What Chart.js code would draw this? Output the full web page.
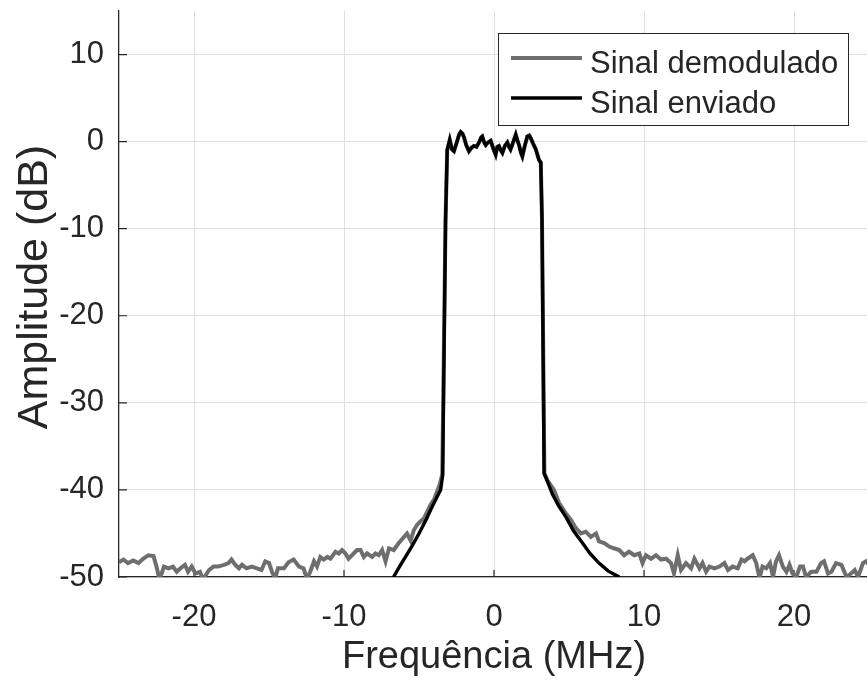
<!DOCTYPE html>
<html>
<head>
<meta charset="utf-8">
<script src="https://cdn.jsdelivr.net/npm/chart.js@4.4.1/dist/chart.umd.min.js"></script>
<style>
html,body{margin:0;padding:0;background:#fff;overflow:hidden;}
canvas{display:block;}
</style>
</head>
<body>
<canvas id="c" width="869" height="684"></canvas>
<script>
// ---- data ----
const X_TICKS = [-20, -10, 0, 10, 20];
const Y_TICKS = [-50, -40, -30, -20, -10, 0, 10];
const X_LABEL = 'Frequência (MHz)';
const Y_LABEL = 'Amplitude (dB)';
const SERIES_NAMES = ['Sinal demodulado', 'Sinal enviado'];

const sentFreq = [-6.7,-6.3,-5.9,-5.45,-5.0,-4.55,-4.12,-3.8,-3.56,-3.42,-3.23,-3.12,-3.05,-2.95,-2.8,-2.67,-2.5,-2.33,-2.22,-2.1,-2.0,-1.85,-1.67,-1.5,-1.34,-1.17,-1.0,-0.85,-0.78,-0.65,-0.55,-0.4,-0.22,-0.05,0.11,0.22,0.33,0.45,0.56,0.72,0.89,1.0,1.1,1.25,1.45,1.55,1.67,1.8,1.89,2.05,2.22,2.35,2.45,2.6,2.79,3.0,3.12,3.2,3.34,3.6,3.9,4.3,4.79,5.3,5.9,6.4,7.0,7.6,8.35];
const sentAmp  = [-50,-48.8,-47.7,-46.4,-45.0,-43.5,-41.9,-40.8,-40.0,-38.3,-9,-1,-0.5,0.2,-0.9,-1.1,-0.2,0.8,1.1,0.9,0.5,-0.4,-1.1,-0.7,-0.5,-0.6,-0.1,0.5,0.6,-0.1,-0.4,-0.1,0.1,-0.8,-1.5,-0.6,-0.5,-1.0,-1.3,-0.5,-0.1,-0.6,-0.9,-0.2,0.8,0.2,-0.4,-1.3,-1.7,-0.5,0.6,0.7,0.4,-0.2,-0.9,-2.1,-2.4,-9,-38.1,-39.2,-40.5,-41.8,-43.1,-44.7,-46.1,-47.3,-48.4,-49.3,-50];

const demodFreq = [-25,-24.9,-24.7,-24.4,-24.05,-23.7,-23.4,-23.05,-22.7,-22.5,-22.3,-22.0,-21.7,-21.4,-21.15,-20.9,-20.6,-20.4,-20.15,-19.9,-19.6,-19.4,-19.0,-18.7,-18.4,-18.0,-17.7,-17.5,-17.25,-17.0,-16.8,-16.5,-16.15,-15.8,-15.5,-15.25,-15.0,-14.8,-14.6,-14.4,-14.0,-13.7,-13.36,-13.0,-12.7,-12.47,-12.25,-12.0,-11.8,-11.58,-11.36,-11.1,-10.9,-10.57,-10.35,-10.13,-9.9,-9.7,-9.47,-9.13,-8.9,-8.68,-8.46,-8.13,-7.9,-7.68,-7.46,-7.23,-7.0,-6.68,-6.35,-6.0,-5.8,-5.56,-5.34,-5.12,-4.9,-4.68,-4.45,-4.23,-4.0,-3.8,-3.6,-3.45,-3.23,-3.12,-3.05,-2.95,-2.8,-2.67,-2.5,-2.33,-2.22,-2.1,-2.0,-1.85,-1.67,-1.5,-1.34,-1.17,-1.0,-0.85,-0.78,-0.65,-0.55,-0.4,-0.22,-0.05,0.11,0.22,0.33,0.45,0.56,0.72,0.89,1.0,1.1,1.25,1.45,1.55,1.67,1.8,1.89,2.05,2.22,2.35,2.45,2.6,2.79,3.0,3.12,3.2,3.36,3.6,4.0,4.34,4.79,5.12,5.46,5.79,6.12,6.46,6.8,7.0,7.35,7.68,8.0,8.35,8.68,9.0,9.35,9.69,9.9,10.13,10.47,10.8,11.14,11.47,11.8,12.0,12.25,12.47,12.8,13.14,13.36,13.7,13.9,14.14,14.36,14.7,15.03,15.36,15.6,15.9,16.25,16.5,16.7,16.9,17.25,17.48,17.7,17.9,18.15,18.4,18.6,18.8,19.0,19.26,19.5,19.7,19.9,20.15,20.4,20.6,20.8,21.15,21.5,21.8,22.0,22.27,22.5,22.8,23.16,23.5,23.8,24.05,24.27,24.6,24.8,25];
const demodAmp  = [-48.3,-48.2,-48.0,-48.4,-48.1,-48.4,-47.9,-47.5,-47.6,-48.8,-50.3,-48.8,-49.0,-48.8,-49.4,-49.0,-48.6,-49.4,-48.8,-49.6,-49.4,-50.3,-49.2,-48.8,-48.8,-48.6,-48.4,-48.0,-48.6,-49.0,-48.6,-49.0,-48.8,-49.0,-49.2,-48.2,-48.4,-49.4,-50.2,-49.0,-49.0,-48.3,-48.0,-48.8,-49.0,-50.2,-49.4,-48.2,-48.8,-47.7,-48.0,-47.7,-47.9,-47.1,-47.3,-46.9,-47.3,-47.9,-47.5,-46.9,-46.9,-47.7,-47.3,-47.7,-47.3,-47.5,-46.9,-48.2,-46.7,-46.9,-46.1,-45.4,-45.0,-45.8,-44.6,-44.0,-43.6,-43.3,-42.5,-41.7,-41.1,-40.2,-39.3,-38.2,-9,-1,-0.5,0.2,-0.9,-1.1,-0.2,0.8,1.1,0.9,0.5,-0.4,-1.1,-0.7,-0.5,-0.6,-0.1,0.5,0.6,-0.1,-0.4,-0.1,0.1,-0.8,-1.5,-0.6,-0.5,-1.0,-1.3,-0.5,-0.1,-0.6,-0.9,-0.2,0.8,0.2,-0.4,-1.3,-1.7,-0.5,0.6,0.7,0.4,-0.2,-0.9,-2.1,-2.4,-9,-38.1,-39.0,-40.0,-41.5,-42.7,-43.4,-44.4,-45.0,-44.8,-45.4,-45.0,-45.9,-46.1,-46.5,-46.7,-46.9,-47.5,-47.1,-47.5,-47.3,-48.4,-47.5,-47.9,-47.5,-48.0,-47.9,-48.4,-49.6,-47.5,-49.2,-48.4,-49.0,-47.9,-49.0,-48.4,-49.4,-48.8,-49.0,-48.8,-48.4,-49.2,-48.8,-49.0,-48.0,-48.2,-47.9,-47.5,-48.4,-50.1,-48.8,-49.0,-48.4,-50.0,-48.2,-47.5,-48.8,-49.4,-48.6,-49.6,-50.0,-48.8,-48.8,-50.0,-49.4,-49.4,-48.4,-48.2,-49.6,-49.4,-48.4,-48.6,-50.0,-49.6,-49.2,-50.0,-48.4,-48.2,-48.6];

const X_MIN = -25, X_MAX = 25, Y_MIN = -50, Y_MAX = 15;

// ---- styles ----
const FONT = "'Liberation Sans', Arial, Helvetica, sans-serif";
const TEXT = '#262626';
const AXIS = '#262626';
const GRID = '#dfdfdf';
const GRAY = '#6e6e6e';
const BLACK = '#000000';

const toPts = (xs, ys) => xs.map((x, i) => ({x: x, y: ys[i]}));

// inward tick marks (MATLAB style) drawn from the scales
const innerTicks = {
  id: 'innerTicks',
  beforeDatasetsDraw(chart) {
    const {ctx, chartArea, scales} = chart;
    ctx.save();
    ctx.strokeStyle = AXIS;
    ctx.lineWidth = 1.2;
    ctx.beginPath();
    X_TICKS.forEach(v => {
      const px = scales.x.getPixelForValue(v);
      ctx.moveTo(px, chartArea.bottom);
      ctx.lineTo(px, chartArea.bottom - 7);
    });
    Y_TICKS.forEach(v => {
      const py = scales.y.getPixelForValue(v);
      ctx.moveTo(chartArea.left, py);
      ctx.lineTo(chartArea.left + 8, py);
    });
    ctx.stroke();
    ctx.restore();
  }
};

// y-axis title, rotated, positioned like the reference
const yTitle = {
  id: 'yTitle',
  afterDraw(chart) {
    const {ctx, scales} = chart;
    const cy = scales.y.getPixelForValue(-16.7);
    ctx.save();
    ctx.translate(35, cy);
    ctx.rotate(-Math.PI / 2);
    ctx.fillStyle = TEXT;
    ctx.font = "43px " + FONT;
    ctx.textAlign = 'center';
    ctx.textBaseline = 'middle';
    ctx.fillText(Y_LABEL, 0, 0);
    ctx.restore();
  }
};

// boxed legend inside the plot, top right
const boxLegend = {
  id: 'boxLegend',
  afterDatasetsDraw(chart) {
    const {ctx} = chart;
    const x0 = 498.5, y0 = 33.5, w = 350, h = 92;
    ctx.save();
    ctx.fillStyle = '#ffffff';
    ctx.fillRect(x0, y0, w, h);
    ctx.strokeStyle = AXIS;
    ctx.lineWidth = 1;
    ctx.strokeRect(x0, y0, w, h);
    const rows = [58, 98];
    const bases = [73, 113];
    chart.data.datasets.forEach((ds, i) => {
      ctx.strokeStyle = ds.borderColor;
      ctx.lineWidth = ds.borderWidth;
      ctx.beginPath();
      ctx.moveTo(511, rows[i]);
      ctx.lineTo(582, rows[i]);
      ctx.stroke();
      ctx.fillStyle = TEXT;
      ctx.font = "31px " + FONT;
      ctx.textBaseline = 'alphabetic';
      ctx.textAlign = 'left';
      ctx.fillText(ds.label, 590, bases[i]);
    });
    ctx.restore();
  }
};

new Chart(document.getElementById('c'), {
  type: 'line',
  data: {
    datasets: [
      {
        label: SERIES_NAMES[0],
        data: toPts(demodFreq, demodAmp),
        borderColor: GRAY,
        borderWidth: 4,
        pointRadius: 0,
        tension: 0,
        order: 1,
        clip: 0
      },
      {
        label: SERIES_NAMES[1],
        data: toPts(sentFreq, sentAmp),
        borderColor: BLACK,
        borderWidth: 3.4,
        pointRadius: 0,
        tension: 0,
        order: 0,
        clip: 0
      }
    ]
  },
  options: {
    responsive: false,
    animation: false,
    devicePixelRatio: 1,
    layout: {padding: {top: 11, right: 0, left: 0, bottom: 0}},
    plugins: {legend: {display: false}, tooltip: {enabled: false}},
    scales: {
      x: {
        type: 'linear',
        min: X_MIN, max: X_MAX,
        afterBuildTicks: s => { s.ticks = X_TICKS.map(v => ({value: v})); },
        afterFit: s => { s.height = 107; s.paddingLeft = 0; s.paddingRight = 0; },
        grid: {color: GRID, lineWidth: 1, drawTicks: false},
        border: {display: true, color: AXIS, width: 1.3},
        ticks: {
          color: TEXT, padding: 22, maxRotation: 0, autoSkip: false,
          font: {family: FONT, size: 31},
          callback: v => String(v)
        },
        title: {display: true, text: X_LABEL, color: TEXT, font: {family: FONT, size: 38}, padding: {top: 0, bottom: 4}}
      },
      y: {
        type: 'linear',
        min: Y_MIN, max: Y_MAX,
        afterBuildTicks: s => { s.ticks = Y_TICKS.map(v => ({value: v})); },
        afterFit: s => { s.width = 119; s.paddingTop = 0; s.paddingBottom = 0; },
        grid: {color: GRID, lineWidth: 1, drawTicks: false},
        border: {display: true, color: AXIS, width: 1.3},
        ticks: {
          color: TEXT, padding: 15, autoSkip: false,
          font: {family: FONT, size: 31},
          callback: v => String(v)
        },
        title: {display: false}
      }
    }
  },
  plugins: [innerTicks, yTitle, boxLegend]
});
</script>
</body>
</html>
